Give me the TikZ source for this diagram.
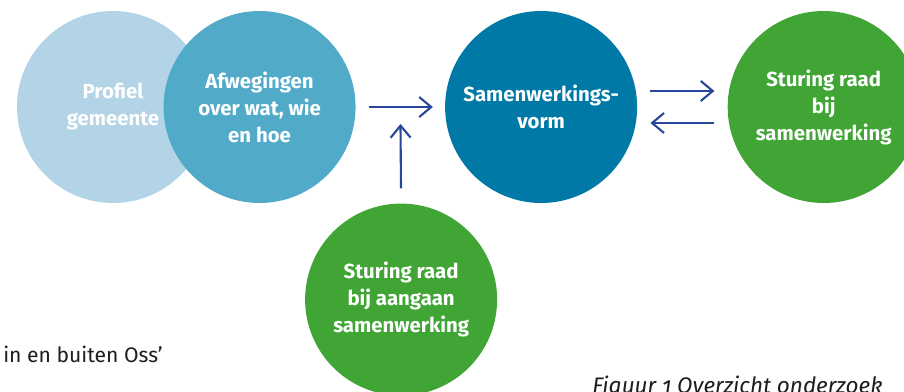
\documentclass[tikz,border=0pt]{standalone}
\usepackage{fontspec}
\setmainfont{Fira Sans}
\usetikzlibrary{calc,positioning,arrows.meta}
\usepackage{xcolor}
\definecolor{lightblue}{HTML}{B2D4E6}
\definecolor{midblue}{HTML}{52AAC9}
\definecolor{darkblue}{HTML}{0079A6}
\definecolor{raadgreen}{HTML}{40A535}
\definecolor{arrowblue}{HTML}{28479B}
\definecolor{textgray}{HTML}{1D1D1B}

\begin{document}
\begin{tikzpicture}[
        >={Straight Barb[length=0.3cm,width=0.5cm]},
        node distance=2.25cm,
        bubble/.style={
            circle,
            minimum size=4.8cm,
            inner sep=0pt,
            align=center,
            text=white,
            font=\bfseries\fontsize{14.5}{19.2}\selectfont
        },
        arrow/.style={
            ->,
            line width=1.5pt,
            arrowblue
        },
        caption/.style={
            anchor=base west,
            inner sep=0pt,
            text=textgray,
            font=\fontsize{15}{18}\selectfont
        }
    ]
    \clip (0,0) rectangle (22.6,-9.775);

    % Profile and considerations (overlapping)
    \node[bubble, fill=lightblue] (profiel) at (2.825,-2.675)
        {Profiel\\gemeente};
    \node[bubble, fill=midblue, right=-1.15cm of profiel] (afweg)
        {Afwegingen\\over wat, wie\\en hoe};

    % Form of cooperation
    \node[bubble, fill=darkblue, right=2.225cm of afweg] (samen)
        {Samenwerkings-\\vorm};

    % Council steering
    \node[bubble, fill=raadgreen, right=of samen] (raad)
        {Sturing raad\\bij\\samenwerking};
    \node[bubble, fill=raadgreen, below=0cm of samen, xshift=-3.5cm] (aangaan)
        {Sturing raad\\bij aangaan\\samenwerking};

    % Arrows: into the form of cooperation
    \coordinate (merge) at ($(afweg.east)!0.5!(samen.west)$);
    \draw[arrow, shorten <=0.325cm, shorten >=0.3cm] (afweg.east) -- (samen.west);
    \draw[arrow, shorten <=0.375cm, shorten >=0.425cm] (aangaan.north) -- (merge);

    % Arrows: form <-> council steering
    \draw[arrow, shorten <=0.325cm, shorten >=0.325cm]
        ([yshift=0.4cm]samen.east) -- ([yshift=0.4cm]raad.west);
    \draw[arrow, shorten <=0.325cm, shorten >=0.325cm]
        ([yshift=-0.4cm]raad.west) -- ([yshift=-0.4cm]samen.east);

    % Loose text at the bottom
    \node[caption] (bron) at (0.075,-9.07) {in en buiten Oss’};
    \node[caption, font=\itshape\fontsize{16}{19}\selectfont\addfontfeatures{Numbers=OldStyle}] (figuur)
        at (14.8,-9.84) {Figuur 1 Overzicht onderzoek};
\end{tikzpicture}
\end{document}
